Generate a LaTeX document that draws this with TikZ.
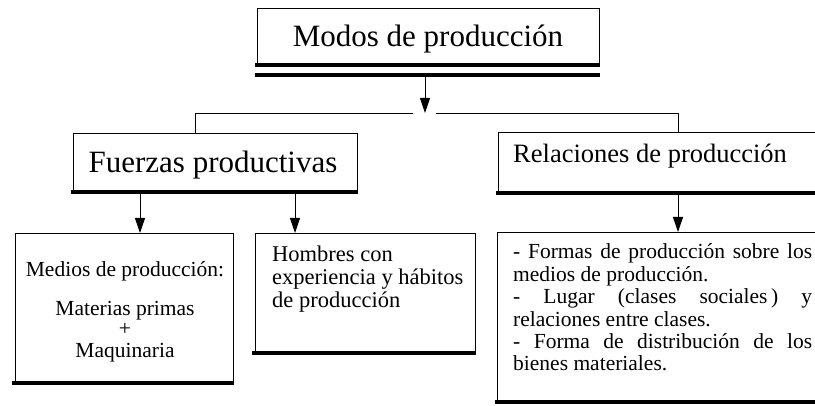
\documentclass[tikz,border=0pt]{standalone}
\usepackage{fontspec}
\setmainfont{Liberation Serif}
\usetikzlibrary{arrows.meta}
\begin{document}
\begin{tikzpicture}[x=1pt,y=-1pt,
  box/.style={draw=black,line width=0.8pt,fill=white,inner sep=0pt,outer sep=0pt,anchor=north west},
  thick bar/.style={line width=3.5pt,line cap=butt},
  conn/.style={line width=0.9pt},
  arr/.style={line width=0.9pt,-{Triangle[width=10pt,length=15pt]}},
  big/.style={font=\fontsize{31}{37}\selectfont,inner sep=0pt},
  mid/.style={font=\fontsize{26.5}{32}\selectfont,inner sep=0pt},
  small/.style={font=\fontsize{21.5}{25}\selectfont,inner sep=0pt}]
\useasboundingbox (0,0) rectangle (815,406);
\clip (0,0) rectangle (815,406);
\fill[white] (0,0) rectangle (815,406);

% boxes
\node[box,minimum width=342pt,minimum height=57pt] (top) at (257,8) {};
\node[box,minimum width=284pt,minimum height=59pt] (fp) at (73,133) {};
\node[box,minimum width=362pt,minimum height=61pt] (rp) at (498,132) {};
\node[box,minimum width=218pt,minimum height=150pt] (medios) at (15,233) {};
\node[box,minimum width=220pt,minimum height=120pt] (hombres) at (255,233) {};
\node[box,minimum width=363pt,minimum height=170pt] (formas) at (497,232) {};

% thick bottom bars
\draw[thick bar] ([xshift=-2pt]top.south west) -- ([xshift=1pt]top.south east);
\draw[thick bar,line width=4pt] ([shift={(-2pt,-10pt)}]top.south west) -- ([shift={(1pt,-10pt)}]top.south east);
\draw[thick bar] ([xshift=-2pt]fp.south west) -- ([xshift=1pt]fp.south east);
\draw[thick bar] ([xshift=-2pt]rp.south west) -- (rp.south east);
\draw[thick bar] ([xshift=-3pt]medios.south west) -- ([xshift=1pt]medios.south east);
\draw[thick bar] ([xshift=-3pt]hombres.south west) -- ([xshift=1pt]hombres.south east);
\draw[thick bar] ([xshift=-2pt]formas.south west) -- (formas.south east);

% connectors
\coordinate (topout) at (425,77);
\coordinate (hub) at (425,113);
\coordinate (L) at (195,113);
\coordinate (R) at (678,113);
\coordinate (gapL) at (413,113);
\coordinate (gapR) at (436,113);
\coordinate (c1) at (140,0);
\coordinate (c2) at (295,0);
\draw[arr] (topout) -- (hub);
\draw[conn] (fp.north -| L) -- (L) -- (gapL);
\draw[conn] (gapR) -- (R) -- (rp.north -| R);
\draw[arr] ([yshift=-2pt]fp.south -| c1) -- (medios.north -| c1);
\draw[arr] ([yshift=-2pt]fp.south -| c2) -- (hombres.north -| c2);
\draw[arr] ([yshift=-2pt]rp.south -| R) -- (formas.north -| R);

% texts
\node[big,anchor=base] (toptxt) at (428,47) {Modos de producción};
\node[big,anchor=base] (fptxt) at (213,173) {Fuerzas productivas};
\node[mid,anchor=base west] (rptxt) at (513,163) {Relaciones de producción};

\node[small,anchor=base] (m1) at (125,277) {Medios de producción:};
\node[small,anchor=base] (m2) at (125,316) {Materias primas};
\node[small,anchor=base] (m3) at (125,336) {+};
\node[small,anchor=base] (m4) at (125,358) {Maquinaria};

\node[small,font=\fontsize{22.5}{25}\selectfont,anchor=base west] (h1) at (272,262) {Hombres con};
\node[small,font=\fontsize{22.5}{25}\selectfont,anchor=base west] (h2) at (272,285) {experiencia y hábitos};
\node[small,font=\fontsize{22.5}{25}\selectfont,anchor=base west] (h3) at (272,308) {de producción};

\node[small,anchor=base west] (f1) at (513,259) {\makebox[299pt][s]{- Formas de producción sobre los}};
\node[small,anchor=base west] (f2) at (513,281.4) {medios de producción.};
\node[small,anchor=base west] (f3) at (513,303.8) {\makebox[299pt][s]{- Lugar (clases sociales\,) y}};
\node[small,anchor=base west] (f4) at (513,326.2) {relaciones entre clases.};
\node[small,anchor=base west] (f5) at (513,348.6) {\makebox[299pt][s]{- Forma de distribución de los}};
\node[small,anchor=base west] (f6) at (513,371) {bienes materiales.};
\end{tikzpicture}
\end{document}
